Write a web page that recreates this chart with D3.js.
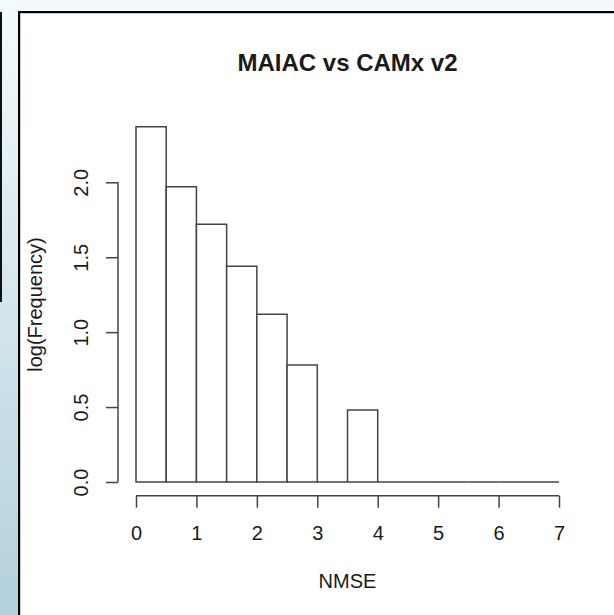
<!DOCTYPE html>
<html>
<head>
<meta charset="utf-8">
<script src="https://cdn.jsdelivr.net/npm/d3@7"></script>
<style>
  html, body { margin: 0; padding: 0; background: #ffffff; }
  svg { display: block; }
  text { font-family: "Liberation Sans", Arial, sans-serif; fill: #1a1a1a; }
</style>
</head>
<body>
<svg id="chart" width="614" height="615"></svg>
<script>
// Histogram bins (NMSE, width 0.5) and their log10 frequencies
const binStarts = [0, 0.5, 1, 1.5, 2, 2.5, 3, 3.5, 4, 4.5, 5, 5.5, 6, 6.5];
const binWidth = 0.5;
const logFreq = [2.37, 1.97, 1.72, 1.44, 1.12, 0.78, 0, 0.48, 0, 0, 0, 0, 0, 0];
const xTicks = [0, 1, 2, 3, 4, 5, 6, 7];
const yTicks = [0, 0.5, 1, 1.5, 2];
const yTickLabels = ["0.0", "0.5", "1.0", "1.5", "2.0"];
const title = "MAIAC vs CAMx v2";
const xTitle = "NMSE";
const yTitle = "log(Frequency)";

const svg = d3.select("#chart");
const FONT = "'Liberation Sans', Arial, sans-serif";

// page frame: pale blue strip on top/left, then a black border
const defs = svg.append("defs");
const grad = defs.append("linearGradient")
  .attr("id", "sideGrad").attr("x1", 0).attr("y1", 0).attr("x2", 0).attr("y2", 1);
grad.append("stop").attr("offset", "0%").attr("stop-color", "#f4fbfd");
grad.append("stop").attr("offset", "100%").attr("stop-color", "#b3d0dc");

svg.append("rect").attr("x", 0).attr("y", 0).attr("width", 614).attr("height", 12)
  .attr("fill", "#f3fafd");
svg.append("rect").attr("x", 0).attr("y", 0).attr("width", 18).attr("height", 615)
  .attr("fill", "url(#sideGrad)");
svg.append("rect").attr("x", 0).attr("y", 12).attr("width", 2).attr("height", 290)
  .attr("fill", "#111");
svg.append("rect").attr("x", 18).attr("y", 11).attr("width", 596).attr("height", 2.2)
  .attr("fill", "#000");
svg.append("rect").attr("x", 18).attr("y", 11).attr("width", 2.2).attr("height", 604)
  .attr("fill", "#000");

// scales
const x = d3.scaleLinear().domain([0, 7]).range([136, 559]);
const y = d3.scaleLinear().domain([0, 2]).range([482, 182.3]);

const stroke = "#444";
const sw = 1.5;

// bars
svg.append("g")
  .selectAll("path")
  .data(binStarts.map((s, i) => ({ s, v: logFreq[i] })))
  .join("path")
  .attr("d", d => {
    const x0 = x(d.s), x1 = x(d.s + binWidth), y0 = y(0), y1 = y(d.v);
    return `M${x0},${y0}V${y1}H${x1}V${y0}Z`;
  })
  .attr("fill", "#fff")
  .attr("stroke", stroke)
  .attr("stroke-width", sw);

// x axis
const xAxisY = 495.7;
const gx = svg.append("g")
  .attr("transform", `translate(0,${xAxisY})`)
  .call(d3.axisBottom(x).tickValues(xTicks).tickSize(12).tickSizeOuter(0).tickPadding(18)
    .tickFormat(d3.format("d")));
gx.select(".domain").remove();
gx.append("line")
  .attr("x1", x(xTicks[0])).attr("x2", x(xTicks[xTicks.length - 1]))
  .attr("y1", 0).attr("y2", 0)
  .attr("stroke", stroke).attr("stroke-width", sw);
gx.selectAll(".tick line").attr("stroke", stroke).attr("stroke-width", sw);
gx.selectAll(".tick text")
  .style("font-family", FONT)
  .style("font-size", "20px").attr("fill", "#1a1a1a");

// y axis
const yAxisX = 118;
const gy = svg.append("g")
  .attr("transform", `translate(${yAxisX},0)`)
  .call(d3.axisLeft(y).tickValues(yTicks).tickSize(12).tickSizeOuter(0)
    .tickFormat((d, i) => yTickLabels[i]));
gy.select(".domain").remove();
gy.append("line")
  .attr("x1", 0).attr("x2", 0)
  .attr("y1", y(yTicks[0])).attr("y2", y(yTicks[yTicks.length - 1]))
  .attr("stroke", stroke).attr("stroke-width", sw);
gy.selectAll(".tick line").attr("stroke", stroke).attr("stroke-width", sw);
gy.selectAll(".tick text")
  .attr("x", 0).attr("dy", null)
  .attr("transform", "translate(-37,0) rotate(-90)")
  .attr("text-anchor", "middle")
  .attr("dominant-baseline", "central")
  .style("font-family", FONT)
  .style("font-size", "20px").attr("fill", "#1a1a1a");

// titles
svg.append("text")
  .attr("x", 347.5).attr("y", 62.5)
  .attr("text-anchor", "middle").attr("dominant-baseline", "central")
  .style("font-size", "24px").style("font-weight", "bold")
  .attr("fill", "#000")
  .text(title);

svg.append("text")
  .attr("x", 347.5).attr("y", 580.5)
  .attr("text-anchor", "middle").attr("dominant-baseline", "central")
  .style("font-size", "20px")
  .text(xTitle);

svg.append("text")
  .attr("transform", "translate(35,304.5) rotate(-90)")
  .attr("text-anchor", "middle").attr("dominant-baseline", "central")
  .style("font-size", "20px")
  .text(yTitle);
</script>
</body>
</html>
